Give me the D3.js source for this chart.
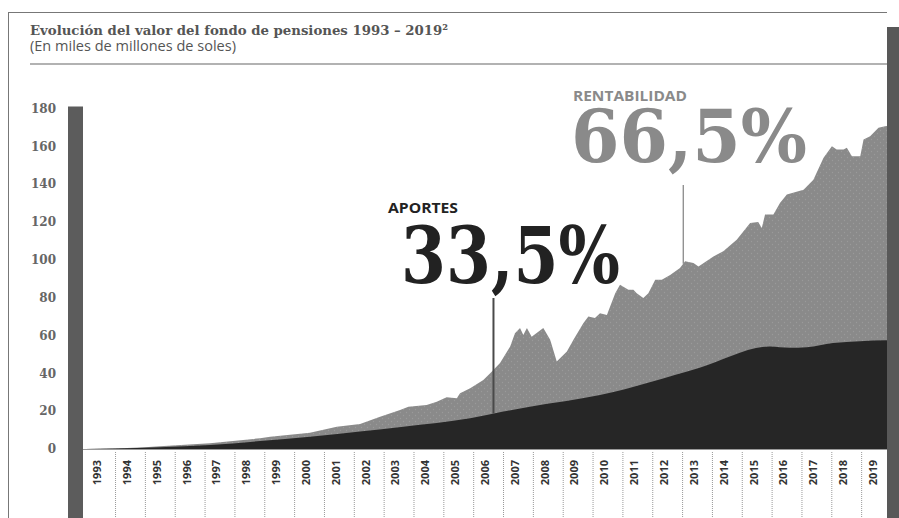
<!DOCTYPE html>
<html lang="es">
<head>
<meta charset="utf-8">
<script src="https://cdn.jsdelivr.net/npm/d3@7"></script>
<style>
  html, body { margin: 0; padding: 0; background: #fff; }
  svg { display: block; }
</style>
</head>
<body>
<svg id="chart" width="899" height="518"></svg>
<script>
// Fondo de pensiones: valor total y aportes (miles de millones de soles)
const years = d3.range(1993, 2020);
const yTicks = [0, 20, 40, 60, 80, 100, 120, 140, 160, 180];

// Valor total del fondo (fecha en años decimales, valor)
const fundDates = [1993.0, 1993.5, 1994.0, 1995.0, 1995.5, 1997.18, 1998.86, 1999.2, 2000.53, 2001.43,
  2002.21, 2002.88, 2003.55, 2003.83, 2004.44, 2004.78, 2005.11, 2005.45, 2005.56, 2005.9,
  2006.34, 2006.57, 2006.9, 2007.24, 2007.4, 2007.57, 2007.68, 2007.8, 2007.96, 2008.35,
  2008.58, 2008.8, 2009.14, 2009.36, 2009.69, 2009.86, 2010.08, 2010.25, 2010.48, 2010.76,
  2010.92, 2011.2, 2011.37, 2011.48, 2011.7, 2011.87, 2012.1, 2012.32, 2012.6, 2012.93,
  2013.1, 2013.38, 2013.55, 2014.05, 2014.38, 2014.83, 2015.28, 2015.55, 2015.67, 2015.78,
  2016.06, 2016.28, 2016.51, 2017.07, 2017.4, 2017.74, 2018.02, 2018.18, 2018.41, 2018.52,
  2018.69, 2018.97, 2019.08, 2019.3, 2019.58, 2019.8, 2020.0];
const fundValues = [0, 0.1, 0.3, 0.9, 1.4, 3.0, 5.7, 6.5, 8.6, 11.8,
  13.2, 17.1, 20.6, 22.4, 23.3, 25.0, 27.4, 26.8, 29.5, 32.1,
  36.5, 40.1, 45.4, 54.2, 61.2, 64.0, 60.3, 64.0, 59.4, 63.9,
  57.7, 46.2, 51.5, 57.7, 66.5, 70.0, 69.2, 71.8, 70.9, 82.4,
  86.8, 84.2, 84.2, 82.4, 79.8, 82.4, 89.5, 89.5, 92.0, 95.7,
  99.2, 98.3, 96.5, 101.8, 104.5, 110.6, 119.5, 120.0, 116.8, 123.9,
  123.9, 130.0, 134.5, 137.1, 142.4, 153.9, 160.0, 158.3, 158.3, 159.2,
  154.7, 154.7, 163.6, 165.3, 169.8, 170.6, 171.0];

// Aportes acumulados
const contribDates = [1993.0, 1994.0, 1995.5, 1997.18, 1998.86, 2000.53, 2002.21, 2003.66, 2005.9,
  2007.01, 2007.9, 2010.25, 2013.59, 2015.94, 2016.6, 2017.18, 2018.06, 2020.0];
const contribValues = [0, 0.2, 0.9, 2.1, 4.2, 6.5, 9.2, 11.8, 16.3,
  19.8, 22.4, 28.6, 43.0, 54.2, 53.5, 53.8, 56.0, 57.5];

const svg = d3.select("#chart");
const W = 899, H = 518;
const plotLeft = 83, plotRight = 887, baseY = 449;

const x = d3.scaleLinear().domain([1993, 2020]).range([85.2, 891]);
const y = d3.scaleLinear().domain([0, 180]).range([baseY, 108.5]);
const band = d3.scaleBand().domain(years).range([85.2, 891]).padding(0);

const fund = fundDates.map((d, i) => ({ t: d, v: fundValues[i] }));
const contrib = contribDates.map((d, i) => ({ t: d, v: contribValues[i] }));

// Marco
svg.append("line").attr("x1", 8.5).attr("x2", 8.5).attr("y1", 12).attr("y2", H)
  .attr("stroke", "#777").attr("stroke-width", 1);
svg.append("line").attr("x1", 8).attr("x2", plotRight).attr("y1", 12.5).attr("y2", 12.5)
  .attr("stroke", "#777").attr("stroke-width", 1);

// Título
svg.append("text").attr("x", 30).attr("y", 34.5)
  .attr("font-family", "'DejaVu Serif', serif").attr("font-weight", "bold")
  .attr("font-size", 13.5).attr("fill", "#555")
  .attr("textLength", 418).attr("lengthAdjust", "spacingAndGlyphs")
  .text("Evolución del valor del fondo de pensiones 1993 – 2019²");
svg.append("text").attr("x", 30).attr("y", 51)
  .attr("font-family", "'Open Sans', sans-serif")
  .attr("font-size", 14).attr("fill", "#555")
  .attr("textLength", 206).attr("lengthAdjust", "spacingAndGlyphs")
  .text("(En miles de millones de soles)");
svg.append("line").attr("x1", 30).attr("x2", plotRight).attr("y1", 64).attr("y2", 64)
  .attr("stroke", "#999").attr("stroke-width", 1.5);

// Trama de puntos del área gris
const defs = svg.append("defs");
const pat = defs.append("pattern").attr("id", "dots").attr("width", 6).attr("height", 6)
  .attr("patternUnits", "userSpaceOnUse");
pat.append("rect").attr("width", 6).attr("height", 6).attr("fill", "#8a8a8a");
pat.append("circle").attr("cx", 1.5).attr("cy", 1.5).attr("r", 0.7).attr("fill", "#9a9a9a");
pat.append("circle").attr("cx", 4.5).attr("cy", 4.5).attr("r", 0.7).attr("fill", "#9a9a9a");
defs.append("clipPath").attr("id", "plotClip").append("rect")
  .attr("x", plotLeft).attr("y", 0).attr("width", plotRight - plotLeft).attr("height", baseY + 1);

const g = svg.append("g").attr("clip-path", "url(#plotClip)");
const area = d3.area().x(d => x(d.t)).y0(baseY).y1(d => y(d.v));

g.append("path").datum(fund).attr("d", area.curve(d3.curveLinear)).attr("fill", "url(#dots)");
g.append("path").datum(contrib).attr("d", area.curve(d3.curveMonotoneX)).attr("fill", "#262626");

// Línea base
svg.append("line").attr("x1", plotLeft).attr("x2", plotRight).attr("y1", baseY + 0.5).attr("y2", baseY + 0.5)
  .attr("stroke", "#9a9a9a").attr("stroke-width", 1);

// Eje Y
svg.append("g").selectAll("text").data(yTicks).join("text")
  .attr("x", 56).attr("y", d => y(d)).attr("dy", "0.35em")
  .attr("text-anchor", "end")
  .attr("font-family", "'DejaVu Serif', serif").attr("font-weight", "bold")
  .attr("font-size", 12).attr("fill", "#666")
  .text(d => d);

// Barras laterales
svg.append("rect").attr("x", 68).attr("y", y(180) - 2).attr("width", 15).attr("height", H - y(180) + 2)
  .attr("fill", "#5c5c5c");
svg.append("rect").attr("x", plotRight).attr("y", 27).attr("width", W - plotRight).attr("height", H - 27)
  .attr("fill", "#585858");

// Eje X: años y separadores punteados
const xg = svg.append("g");
xg.selectAll("line").data(years.slice(1)).join("line")
  .attr("x1", d => band(d) + 0.5).attr("x2", d => band(d) + 0.5)
  .attr("y1", baseY + 3).attr("y2", H)
  .attr("stroke", "#999").attr("stroke-width", 1).attr("stroke-dasharray", "1,1");
xg.selectAll("text").data(years).join("text")
  .attr("transform", d => `translate(${band(d) + band.bandwidth() / 2 - 3},460) rotate(-90)`)
  .attr("text-anchor", "end").attr("dy", "0.35em")
  .attr("font-family", "'Open Sans', sans-serif").attr("font-weight", 700)
  .attr("font-size", 11).attr("fill", "#333")
  .text(d => d);

// Valor de una serie en una fecha
function valueAt(series, t) {
  const i = d3.bisector(d => d.t).right(series, t);
  const a = series[Math.max(0, i - 1)], b = series[Math.min(series.length - 1, i)];
  if (a === b) return a.v;
  return a.v + (b.v - a.v) * (t - a.t) / (b.t - a.t);
}

// Anotaciones
const tRent = 2013.04, tAport = 2006.68;
svg.append("line").attr("x1", x(tRent)).attr("x2", x(tRent))
  .attr("y1", 185).attr("y2", y(valueAt(fund, tRent)))
  .attr("stroke", "#8a8a8a").attr("stroke-width", 1.3);
svg.append("line").attr("x1", x(tAport)).attr("x2", x(tAport))
  .attr("y1", 298).attr("y2", y(valueAt(contrib, tAport)))
  .attr("stroke", "#4a4a4a").attr("stroke-width", 2);

svg.append("text").attr("x", 573).attr("y", 100.5)
  .attr("font-family", "'Open Sans', sans-serif").attr("font-weight", 700)
  .attr("font-size", 13.5).attr("fill", "#8a8a8a")
  .attr("textLength", 114).attr("lengthAdjust", "spacingAndGlyphs").text("RENTABILIDAD");
svg.append("text").attr("x", 571).attr("y", 162)
  .attr("font-family", "'DejaVu Serif', serif").attr("font-weight", "bold")
  .attr("font-size", 72).attr("fill", "#8a8a8a")
  .attr("textLength", 236).attr("lengthAdjust", "spacingAndGlyphs").text("66,5%");

svg.append("text").attr("x", 388).attr("y", 213)
  .attr("font-family", "'Open Sans', sans-serif").attr("font-weight", 700)
  .attr("font-size", 13.5).attr("fill", "#222")
  .attr("textLength", 70).attr("lengthAdjust", "spacingAndGlyphs").text("APORTES");
svg.append("text").attr("x", 401).attr("y", 283)
  .attr("font-family", "'DejaVu Serif', serif").attr("font-weight", "bold")
  .attr("font-size", 78).attr("fill", "#222")
  .attr("textLength", 219).attr("lengthAdjust", "spacingAndGlyphs").text("33,5%");
</script>
</body>
</html>
